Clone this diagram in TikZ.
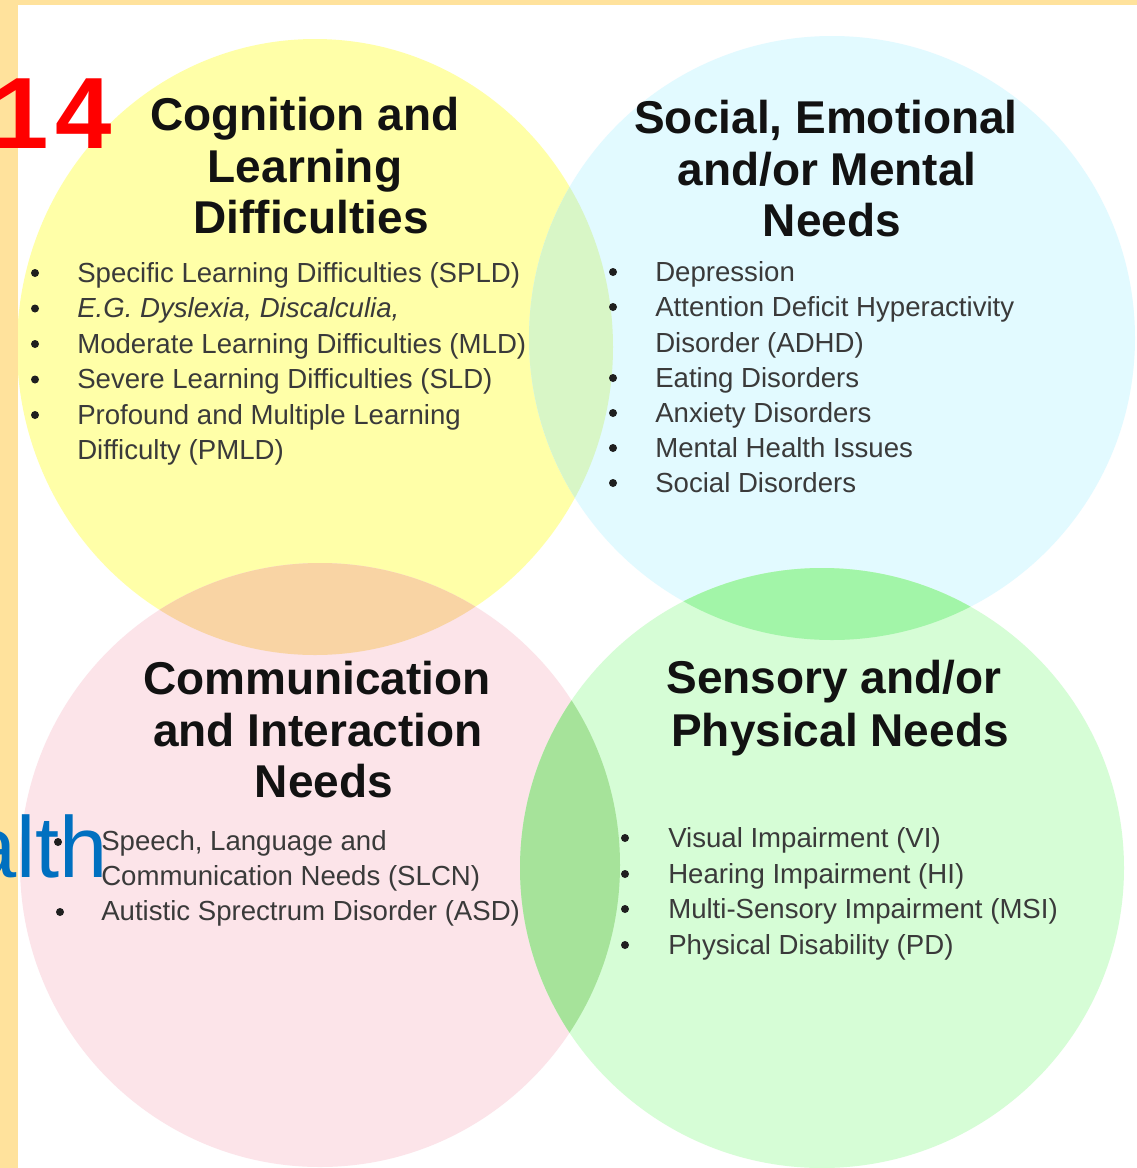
\documentclass[tikz,border=0pt]{standalone}
\usepackage{fontspec}
\setmainfont{Liberation Sans}
\definecolor{framec}{HTML}{FFE29C}
\definecolor{yelc}{HTML}{FFFFA8}
\definecolor{bluc}{HTML}{E2FAFF}
\definecolor{pinc}{HTML}{FCE4E9}
\definecolor{grnc}{HTML}{D6FDD6}
\definecolor{yelblu}{HTML}{D8F6C6}
\definecolor{yelpin}{HTML}{F9D4A4}
\definecolor{blugrn}{HTML}{A2F5A8}
\definecolor{pingrn}{HTML}{A6E39A}
\definecolor{headc}{HTML}{121212}
\definecolor{bodyc}{HTML}{3A3A3A}
\definecolor{numred}{HTML}{FF0000}
\definecolor{wordblue}{HTML}{0070C0}
\begin{document}
\begin{tikzpicture}[x=0.75pt,y=-0.75pt,
  head/.style={anchor=base,inner sep=0pt,font=\fontsize{34.5}{39}\selectfont\bfseries,text=headc},
  item/.style={anchor=base west,inner sep=0pt,font=\fontsize{20.7}{26}\selectfont,text=bodyc},
  bul/.style={circle,fill=black!88,inner sep=0pt,minimum size=6pt}]
\useasboundingbox (0,0) rectangle (1137,1168);
\clip (0,0) rectangle (1137,1168);
\fill[white] (0,0) rectangle (1137,1168);

% the four need areas
\fill[yelc] (315,347) ellipse [x radius=298, y radius=308];
\fill[bluc] (832,338) ellipse [x radius=303, y radius=302];
\fill[pinc] (320,865) ellipse [x radius=300, y radius=302];
\fill[grnc] (822,868) ellipse [x radius=302, y radius=300];

% overlaps between neighbouring areas
\begin{scope}
  \clip (315,347) ellipse [x radius=298, y radius=308];
  \fill[yelblu] (832,338) ellipse [x radius=303, y radius=302];
  \fill[yelpin] (320,865) ellipse [x radius=300, y radius=302];
\end{scope}
\begin{scope}
  \clip (822,868) ellipse [x radius=302, y radius=300];
  \fill[blugrn] (832,338) ellipse [x radius=303, y radius=302];
  \fill[pingrn] (320,865) ellipse [x radius=300, y radius=302];
\end{scope}

% frame strips
\fill[framec] (0,0) rectangle (1137,5);
\fill[framec] (0,0) rectangle (18,1168);

% slide number and partial word
\node[anchor=base west,inner sep=0pt,text=numred,
      font=\fontsize{76}{80}\selectfont\bfseries] (num) at (-8,148) {1\kern5pt 4};
\node[anchor=base east,inner sep=0pt,text=wordblue,
      font=\fontsize{65}{70}\selectfont] (word) at (108,877) {alth};

% Cognition and Learning Difficulties
\node[head] (h1a) at (305,130) {Cognition and};
\node[head] (h1b) at (305,182) {Learning};
\node[head] (h1c) at (311,233) {Difficulties};
\foreach \y in {273,308.5,344,379.5,415}{\node[bul] at (35,\y) {};}
\node[item] (c1) at (77,282) {Specific Learning Difficulties (SPLD)};
\node[item] (c2) at (77,317.5) {\itshape E.G. Dyslexia, Discalculia,};
\node[item] (c3) at (77,353) {Moderate Learning Difficulties (MLD)};
\node[item] (c4) at (77,388.5) {Severe Learning Difficulties (SLD)};
\node[item] (c5) at (77,424) {Profound and Multiple Learning};
\node[item] (c6) at (77,459.5) {Difficulty (PMLD)};

% Social, Emotional and/or Mental Needs
\node[head] (h2a) at (826,133) {Social, Emotional};
\node[head] (h2b) at (827,185) {and/or Mental};
\node[head] (h2c) at (832,236) {Needs};
\foreach \y in {272,307,378,413,448,483}{\node[bul] at (613,\y) {};}
\node[item] (s1) at (655,281) {Depression};
\node[item] (s2) at (655,316) {Attention Deficit Hyperactivity};
\node[item] (s3) at (655,352) {Disorder (ADHD)};
\node[item] (s4) at (655,387) {Eating Disorders};
\node[item] (s5) at (655,422) {Anxiety Disorders};
\node[item] (s6) at (655,457) {Mental Health Issues};
\node[item] (s7) at (655,492) {Social Disorders};

% Communication and Interaction Needs
\node[head] (h3a) at (317,694) {Communication};
\node[head] (h3b) at (318,746) {and Interaction};
\node[head] (h3c) at (324,797) {Needs};
\node[bul] at (58,842) {};
\node[bul] at (60,912) {};
\node[item] (m1) at (101,850) {Speech, Language and};
\node[item] (m2) at (101,885) {Communication Needs (SLCN)};
\node[item] (m3) at (101,920) {Autistic Sprectrum Disorder (ASD)};

% Sensory and/or Physical Needs
\node[head] (h4a) at (834,693) {Sensory and/or};
\node[head] (h4b) at (840,746) {Physical Needs};
\foreach \y in {838,874,909,945}{\node[bul] at (625,\y) {};}
\node[item] (p1) at (668,847) {Visual Impairment (VI)};
\node[item] (p2) at (668,883) {Hearing Impairment (HI)};
\node[item] (p3) at (668,918) {Multi-Sensory Impairment (MSI)};
\node[item] (p4) at (668,954) {Physical Disability (PD)};
\end{tikzpicture}
\end{document}
